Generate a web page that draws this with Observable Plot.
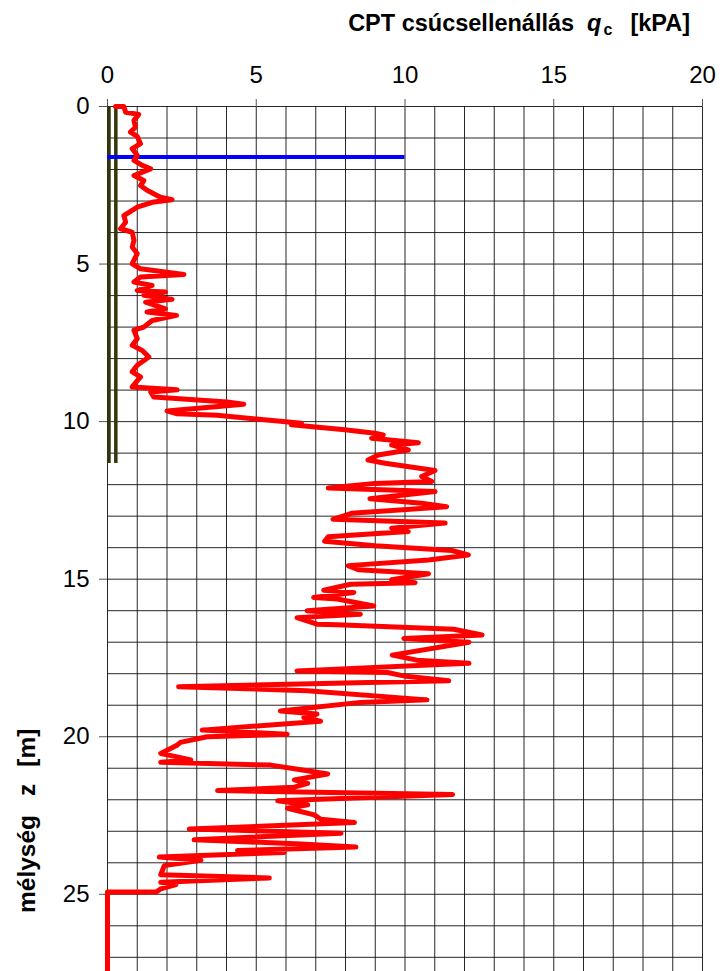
<!DOCTYPE html>
<html>
<head>
<meta charset="utf-8">
<script src="https://cdn.jsdelivr.net/npm/d3@7"></script>
<script src="https://cdn.jsdelivr.net/npm/@observablehq/plot@0.6"></script>
<style>
  body { margin: 0; background: #fff; }
  #chart svg { display: block; }
</style>
</head>
<body>
<div id="chart"></div>
<script>
// CPT sounding: depth below surface [m] and cone tip resistance q_c [kPA]
const depthM = [
  0.0, 0.0, 0.18, 0.25, 0.44, 0.66, 0.81, 0.95, 1.18, 1.34, 1.55, 1.71, 1.87, 1.98, 2.19, 2.35, 2.51, 2.66, 2.88, 2.96,
  3.03, 3.19, 3.46, 3.67, 3.88, 3.99, 4.25, 4.46, 4.67, 4.99, 5.15, 5.33, 5.41, 5.57, 5.68, 5.84, 5.89, 5.99, 6.12, 6.21,
  6.42, 6.52, 6.63, 6.79, 7.0, 7.1, 7.37, 7.58, 7.74, 7.95, 8.21, 8.42, 8.58, 8.9, 8.99, 9.06, 9.22, 9.38, 9.45, 9.66,
  9.75, 9.8, 9.9,
  10.05, 10.1, 10.26, 10.37, 10.42, 10.53, 10.67, 10.74, 10.9, 11.06, 11.22, 11.32, 11.55, 11.74, 11.9, 11.96, 12.11, 12.22,
  12.45, 12.59, 12.7, 12.91, 13.1, 13.22, 13.38, 13.49, 13.65, 13.8, 13.94, 14.09, 14.23, 14.39, 14.57, 14.7, 14.83, 15.02,
  15.11,
  15.16, 15.35, 15.42, 15.58, 15.63, 15.85, 16.0, 16.11, 16.22, 16.43, 16.45, 16.59, 16.77, 16.88, 17.0, 17.41, 17.57, 17.67,
  17.91, 17.96, 18.07, 18.22, 18.41, 18.54, 18.83, 18.91, 19.18, 19.28, 19.39, 19.51, 19.79, 19.92, 20.0, 20.18,
  20.26, 20.53, 20.63, 20.74, 20.81, 20.9, 21.05, 21.18, 21.37, 21.48, 21.6, 21.71, 21.83, 22.03, 22.16, 22.27, 22.48, 22.62,
  22.72, 22.93, 23.06, 23.27, 23.4, 23.5, 23.61, 23.67, 23.82, 23.92, 24.09, 24.38, 24.48, 24.62, 24.69, 24.83, 24.93, 24.93,
  27.45
];
const qcKPa = [
  0.27, 0.55, 0.61, 1.05, 0.89, 0.94, 0.77, 1.0, 1.11, 0.83, 1.0, 0.89, 1.17, 1.45, 0.89, 1.22, 1.11, 1.33, 1.78, 2.17,
  1.56, 1.0, 0.55, 0.61, 0.44, 0.83, 0.89, 0.83, 1.0, 0.83, 1.11, 2.57, 1.11, 0.89, 1.5, 1.0, 1.95, 1.22, 2.17, 1.28,
  1.95, 1.33, 2.32, 1.5, 1.22, 0.89, 1.0, 0.83, 1.17, 1.39, 1.0, 0.83, 1.11, 0.83, 2.34, 1.45, 1.56, 4.02, 4.58, 2.0,
  2.34, 3.69, 4.81,
  6.52, 6.18, 7.98, 8.99, 9.27, 8.88, 10.45, 9.55, 10.11, 9.1, 8.76, 9.33, 11.01, 10.56, 10.9, 8.99, 7.42, 11.01,
  8.82, 10.56, 11.4, 8.2, 7.58, 11.35, 9.55, 10.11, 7.42, 7.3, 8.99, 11.57, 12.13, 10.79, 8.09, 8.43, 10.79, 9.55,
  10.34,
  8.17, 7.27, 8.28, 6.93, 7.72, 8.95, 6.71, 8.5, 6.37, 7.04, 7.72, 11.64, 12.59, 9.96, 12.15, 9.57, 10.4, 12.15,
  6.37, 9.4, 9.96, 11.47, 2.39, 6.71, 10.74, 8.5, 5.81, 7.04, 6.6, 7.16, 3.18, 6.04, 3.35, 2.45,
  2.35, 1.79, 2.3, 2.8, 1.79, 5.49, 6.5, 7.4, 6.28, 6.73, 6.28, 3.7, 11.6, 5.72, 6.73, 6.05, 6.95, 7.17,
  8.3, 2.75, 7.85, 2.91, 6.5, 8.35, 4.37, 5.94, 1.74, 3.14, 1.91, 1.79, 5.44, 1.79, 2.3, 1.79, 1.63, 0,
  0
];

// Groundwater level [m] and its drawn extent along q_c
const waterLevelM = [1.6];
const waterLineQc = [0, 10];

// Casing / rod pair: positions along q_c and bottom depth [m]
const rodQc = [0.05, 0.28];
const rodBottomM = 11.33;

// Axis ticks and grid
const xTicks = [0, 5, 10, 15, 20];
const yTicks = [0, 5, 10, 15, 20, 25];
const xGrid = d3.range(0, 21, 1);
const yGrid = d3.range(0, 28, 1);

const profile = depthM.map((z, i) => ({ z, q: qcKPa[i] }));

const font = "'Liberation Sans', Arial, sans-serif";

const chart = Plot.plot({
  width: 723,
  height: 971,
  marginTop: 106,
  marginLeft: 107,
  marginRight: 21,
  marginBottom: 0,
  style: { fontFamily: font, fontSize: "24px", background: "#fff", color: "#000" },
  x: { domain: [0, 20] },
  y: { domain: [0, 27.45], reverse: true },
  marks: [
    Plot.gridX(xGrid, { stroke: "#111", strokeOpacity: 0.9, strokeWidth: 1 }),
    Plot.gridY(yGrid, { stroke: "#111", strokeOpacity: 0.9, strokeWidth: 1 }),
    Plot.axisX(xTicks, { anchor: "top", tickSize: 8, tickPadding: 16, fontSize: 24, label: null, stroke: "#555" }),
    Plot.axisY(yTicks, { anchor: "left", tickSize: 8, tickPadding: 10, fontSize: 24, label: null, stroke: "#555" }),
    Plot.ruleX(rodQc, { y1: 0, y2: rodBottomM, stroke: "#35350c", strokeWidth: 3.5 }),
    Plot.ruleY(waterLevelM, { x1: waterLineQc[0], x2: waterLineQc[1], stroke: "#0000ff", strokeWidth: 4 }),
    Plot.line(profile, { x: "q", y: "z", stroke: "#ff0000", strokeWidth: 5, strokeLinejoin: "round", strokeLinecap: "round" })
  ]
});

const svg = d3.select(chart);

// Axis title for q_c (top right)
const title = svg.append("text")
  .attr("x", 690)
  .attr("y", 31)
  .attr("text-anchor", "end")
  .attr("font-family", font)
  .attr("font-weight", "bold")
  .attr("font-size", 23.5)
  .attr("fill", "#000");
title.append("tspan").text("CPT csúcsellenállás");
title.append("tspan").attr("dx", 13).attr("font-style", "italic").text("q");
title.append("tspan").attr("dx", 2).attr("dy", 4).attr("font-size", 16).text("c");
title.append("tspan").attr("dx", 18).attr("dy", -4).text("[kPA]");

// Depth axis title (rotated, bottom left)
const ylab = svg.append("text")
  .attr("transform", "translate(35,913) rotate(-90)")
  .attr("text-anchor", "start")
  .attr("font-family", font)
  .attr("font-weight", "bold")
  .attr("font-size", 24.5)
  .attr("fill", "#000");
ylab.append("tspan").text("mélység");
ylab.append("tspan").attr("dx", 19).text("z");
ylab.append("tspan").attr("dx", 17).text("[m]");

document.getElementById("chart").append(chart);
</script>
</body>
</html>
